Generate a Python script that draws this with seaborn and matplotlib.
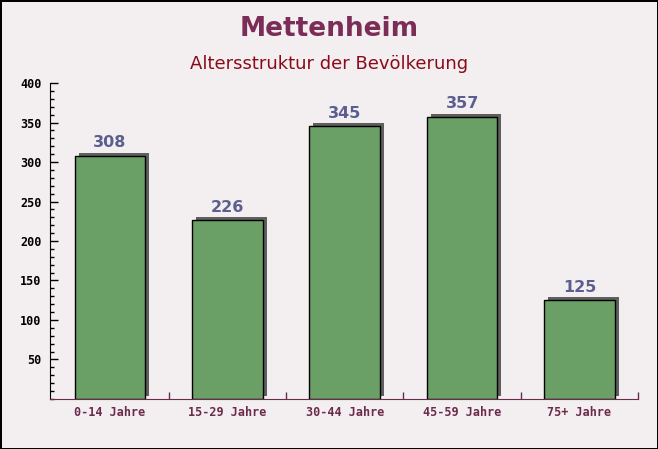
import matplotlib
matplotlib.use("Agg")
import matplotlib.pyplot as plt
import matplotlib.transforms as mtransforms
import pandas as pd
import seaborn as sns

# data
categories = ["0-14 Jahre", "15-29 Jahre", "30-44 Jahre", "45-59 Jahre", "75+ Jahre"]
values = [308, 226, 345, 357, 125]
y_ticks = [50, 100, 150, 200, 250, 300, 350, 400]

title = "Mettenheim"
subtitle = "Altersstruktur der Bevölkerung"

bg = "#f3eff1"
bar_color = "#6a9f66"
maroon = "#6b2b4b"

sns.set_style("white")
df = pd.DataFrame({"Altersgruppe": categories, "Einwohner": values})

fig = plt.figure(figsize=(6.58, 4.49), dpi=100, facecolor=bg)
fig.patch.set_edgecolor("black")
fig.patch.set_linewidth(2)
ax = fig.add_axes([0.076, 0.1114, 0.894, 0.7037])
ax.set_facecolor(bg)

# shadow bars (offset copy drawn behind)
sns.barplot(data=df, x="Altersgruppe", y="Einwohner", color="#5f5f5f",
            width=0.6, saturation=1, ax=ax, zorder=1)
shadow_trans = mtransforms.offset_copy(ax.transData, fig=fig, x=4, y=3, units="dots")
for p in ax.patches:
    p.set_transform(shadow_trans)
    p.set_edgecolor("none")
n_shadow = len(ax.patches)

sns.barplot(data=df, x="Altersgruppe", y="Einwohner", color=bar_color,
            width=0.6, saturation=1, ax=ax, zorder=2,
            edgecolor="black", linewidth=1)

for p, v in zip(ax.patches[n_shadow:], values):
    ax.annotate(str(v), (p.get_x() + p.get_width() / 2, p.get_height()),
                xytext=(0, 4), textcoords="offset points", ha="center", va="bottom",
                fontsize=11.5, fontweight="bold", color="#5b5f8f")

ax.set_xlim(-0.51, 4.47)
ax.set_ylim(0, 400)
ax.set_yticks(y_ticks)
ax.set_yticks(range(0, 401, 10), minor=True)
ax.set_xticks([0.5, 1.5, 2.5, 3.5, 4.5], minor=True)
ax.set_xlabel("")
ax.set_ylabel("")

ax.tick_params(axis="y", which="both", left=True)
ax.tick_params(axis="x", which="both", bottom=True)
ax.tick_params(axis="y", which="major", direction="in", length=6, width=1,
               labelsize=8.5, labelcolor="black", color="black", pad=6)
ax.tick_params(axis="y", which="minor", direction="in", length=3, width=1, color="black")
ax.tick_params(axis="x", which="major", length=0, labelsize=8.5, labelcolor=maroon, pad=5)
ax.tick_params(axis="x", which="minor", direction="in", length=5, width=1, color=maroon)
for lbl in ax.get_xticklabels() + ax.get_yticklabels():
    lbl.set_family("DejaVu Sans Mono")
    lbl.set_fontweight("bold")

for side in ["top", "right"]:
    ax.spines[side].set_visible(False)
ax.spines["left"].set_color("black")
ax.spines["bottom"].set_color(maroon)

fig.text(0.5, 0.935, title, ha="center", va="center", fontsize=19,
         fontweight="bold", color="#7b2d57")
fig.text(0.5, 0.858, subtitle, ha="center", va="center", fontsize=13,
         color="#8b0a1a")

fig.savefig("out.png", dpi=100, facecolor=bg, edgecolor="black")
